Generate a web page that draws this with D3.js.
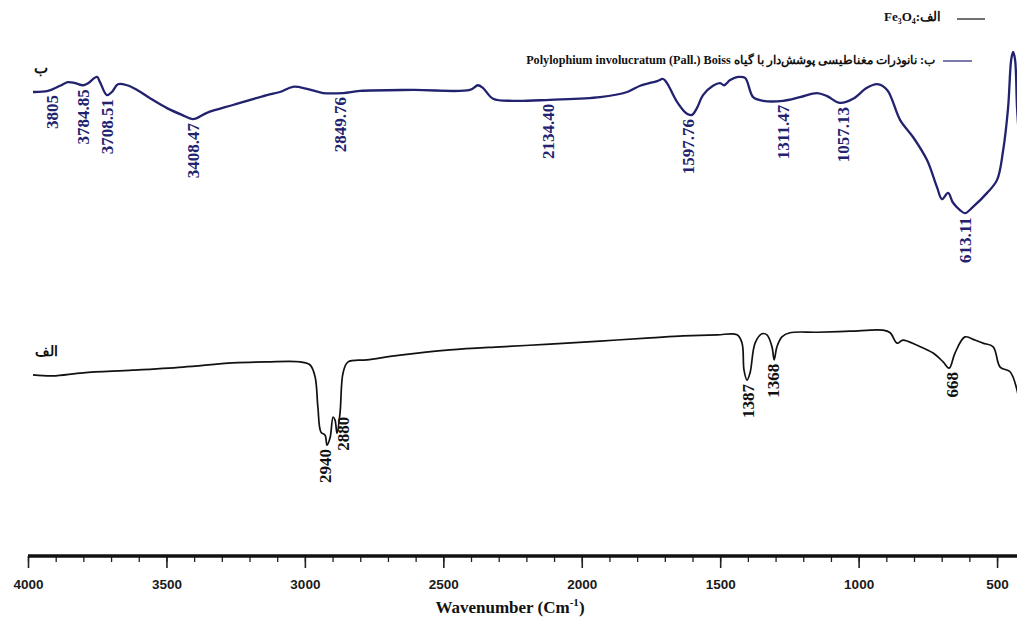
<!DOCTYPE html>
<html lang="fa">
  <head>
    <meta charset="UTF-8" />
    <title>FTIR spectra</title>
    <style>
      body {
        margin: 0;
        background: #fff;
      }
      svg {
        display: block;
        font-family: "Liberation Serif", "DejaVu Serif", serif;
      }
    </style>
  </head>
  <body>
    <script src="https://cdn.jsdelivr.net/npm/d3@7/dist/d3.min.js"></script>
    <script>
      // spectrum b (coated nanoparticles): [wavenumber, transmittance-ish]
      var specB = [
        [3982, 90.0], [3928, 90.2], [3884, 91.2], [3856, 91.9], [3830, 91.7],
        [3801, 91.3], [3783, 91.7], [3751, 92.9], [3740, 91.9], [3715, 89.4],
        [3697, 90.0], [3675, 91.5], [3642, 91.3], [3606, 90.4], [3559, 88.8],
        [3498, 86.9], [3444, 85.6], [3404, 84.8], [3354, 86.0], [3260, 87.5],
        [3137, 89.4], [3090, 90.0], [3043, 91.0], [2992, 90.6], [2934, 89.8],
        [2862, 89.8], [2801, 90.2], [2609, 90.4], [2404, 90.4], [2375, 91.3],
        [2357, 90.8], [2320, 88.7], [2248, 88.3], [2115, 88.5], [1934, 89.0],
        [1836, 90.0], [1789, 91.2], [1728, 92.1], [1706, 92.5], [1692, 91.7],
        [1656, 88.1], [1620, 85.8], [1602, 85.6], [1584, 86.9], [1562, 89.4],
        [1526, 91.2], [1500, 91.7], [1486, 91.3], [1464, 92.3], [1435, 92.9],
        [1410, 92.7], [1381, 89.0], [1345, 88.3], [1273, 88.3], [1212, 89.0],
        [1150, 89.8], [1114, 89.2], [1067, 87.9], [1020, 88.7], [970, 90.8],
        [933, 91.5], [897, 90.4], [850, 84.6], [803, 81.3], [753, 76.9],
        [717, 71.7], [699, 69.4], [677, 70.6], [659, 68.7], [634, 67.3],
        [616, 66.7], [587, 67.9], [536, 70.6], [500, 73.1], [478, 78.8],
        [460, 87.1], [449, 96.2], [442, 97.7], [435, 96.2], [428, 87.1],
        [420, 80.8]
      ];

      // spectrum a (Fe3O4)
      var specA = [
        [3982, 35.6], [3910, 35.4], [3801, 36.0], [3621, 36.5], [3440, 37.1],
        [3260, 37.9], [3137, 38.1], [3018, 38.1], [2981, 37.5], [2963, 35.2],
        [2953, 29.4], [2942, 24.6], [2927, 24.0], [2920, 22.1], [2909, 23.5],
        [2898, 27.5], [2891, 26.9], [2884, 24.4], [2873, 28.3], [2862, 36.0],
        [2844, 38.1], [2776, 38.5], [2656, 39.4], [2476, 40.4], [2295, 41.0],
        [2115, 41.5], [1934, 42.1], [1753, 42.7], [1634, 43.1], [1511, 43.3],
        [1439, 43.3], [1421, 41.7], [1414, 36.5], [1403, 34.6], [1392, 36.0],
        [1374, 41.7], [1349, 43.5], [1331, 43.3], [1313, 41.0], [1305, 38.5],
        [1295, 41.0], [1277, 42.9], [1248, 43.7], [1150, 43.8], [1031, 44.0],
        [912, 44.2], [886, 43.7], [861, 41.7], [840, 42.3], [789, 41.3],
        [731, 39.8], [695, 38.1], [673, 36.9], [652, 39.8], [616, 42.9],
        [580, 42.3], [551, 41.7], [514, 41.0], [489, 37.1], [453, 36.2],
        [428, 32.7], [420, 30.0]
      ];

      // peak labels: text, wavenumber where the label sits
      var peaksB = [
        ["3805", 3913], ["3784.85", 3801], ["3708.51", 3715], ["3408.47", 3404],
        ["2849.76", 2873], ["2134.40", 2122], ["1597.76", 1616], ["1311.47", 1273],
        ["1057.13", 1056], ["613.11", 616]
      ];
      var peaksA = [
        ["2940", 2927], ["2880", 2862], ["1387", 1399], ["1368", 1309], ["668", 663]
      ];

      var majorTicks = [4000, 3500, 3000, 2500, 2000, 1500, 1000, 500];
      var minorTicks = d3.range(4000, 400, -100);

      var legendA = "الف:Fe₃O₄";
      var legendB = "ب: نانوذرات مغناطیسی پوشش‌دار با گیاه Polylophium involucratum (Pall.) Boiss";

      var W = 1017, H = 621;
      var navy = "#22226f";

      var svg = d3.select("body").append("svg")
        .attr("width", W)
        .attr("height", H);

      svg.append("rect")
        .attr("width", W)
        .attr("height", H)
        .attr("fill", "#fff");

      var x = d3.scaleLinear().domain([4000, 428]).range([28, 1017]);
      var y = d3.scaleLinear().domain([0, 100]).range([560, 40]);

      var line = d3.line()
        .x(function(d) { return x(d[0]); })
        .y(function(d) { return y(d[1]); })
        .curve(d3.curveCatmullRom.alpha(0.5));

      svg.append("path")
        .datum(specB)
        .attr("d", line)
        .attr("fill", "none")
        .attr("stroke", navy)
        .attr("stroke-width", 2.3)
        .attr("stroke-linejoin", "round");

      svg.append("path")
        .datum(specA)
        .attr("d", line)
        .attr("fill", "none")
        .attr("stroke", "#111")
        .attr("stroke-width", 1.7)
        .attr("stroke-linejoin", "round");

      // lowest point of a spectrum near a wavenumber -> where a label hangs
      function dipY(spec, w) {
        var near = spec.filter(function(d) { return Math.abs(d[0] - w) <= 20; });
        if (!near.length) near = [spec.reduce(function(a, b) {
          return Math.abs(b[0] - w) < Math.abs(a[0] - w) ? b : a;
        })];
        return y(d3.min(near, function(d) { return d[1]; }));
      }

      function peakLabels(list, spec, color) {
        svg.append("g").selectAll("text")
          .data(list)
          .join("text")
          .attr("transform", function(d) {
            return "translate(" + x(d[1]) + "," + (dipY(spec, d[1]) + 4) + ") rotate(-90)";
          })
          .attr("text-anchor", "end")
          .attr("dy", "0.34em")
          .attr("font-size", 17)
          .attr("font-weight", "bold")
          .attr("fill", color)
          .text(function(d) { return d[0]; });
      }
      peakLabels(peaksB, specB, navy);
      peakLabels(peaksA, specA, "#111");

      // curve names
      svg.append("text")
        .attr("x", 48).attr("y", 73)
        .attr("text-anchor", "end")
        .attr("font-size", 15)
        .attr("font-weight", "bold")
        .attr("fill", "#111")
        .text("ب");
      svg.append("text")
        .attr("x", 58).attr("y", 356)
        .attr("text-anchor", "end")
        .attr("font-size", 14)
        .attr("font-weight", "bold")
        .attr("fill", "#111")
        .text("الف");

      // legend
      svg.append("line")
        .attr("x1", 957).attr("x2", 985).attr("y1", 19).attr("y2", 19)
        .attr("stroke", "#111").attr("stroke-width", 1.2);
      svg.append("text")
        .attr("x", 941).attr("y", 21)
        .attr("direction", "rtl")
        .attr("text-anchor", "start")
        .attr("font-size", 13)
        .attr("font-weight", "bold")
        .attr("fill", "#111")
        .text(legendA);

      svg.append("line")
        .attr("x1", 943).attr("x2", 972).attr("y1", 61).attr("y2", 61)
        .attr("stroke", navy).attr("stroke-width", 1.2);
      svg.append("text")
        .attr("x", 935).attr("y", 64)
        .attr("direction", "rtl")
        .attr("text-anchor", "start")
        .attr("font-size", 12.2)
        .attr("font-weight", "bold")
        .attr("fill", "#111")
        .text(legendB);

      // x axis
      var axisY = 556;
      var gx = svg.append("g").attr("transform", "translate(0," + axisY + ")");

      gx.append("g")
        .call(d3.axisBottom(x).tickValues(minorTicks).tickSize(6).tickFormat(""))
        .call(function(g) { g.select(".domain").remove(); })
        .selectAll("line").attr("stroke", "#222").attr("stroke-width", 1.3);

      gx.append("g")
        .call(d3.axisBottom(x).tickValues(majorTicks).tickSize(12).tickPadding(11)
          .tickFormat(d3.format("d")))
        .call(function(g) { g.select(".domain").remove(); })
        .call(function(g) {
          g.selectAll("line").attr("stroke", "#222").attr("stroke-width", 1.6);
          g.selectAll("text")
            .attr("font-family", "'Liberation Sans', Arial, sans-serif")
            .attr("font-size", 13.5)
            .attr("font-weight", "bold")
            .attr("fill", "#1a1a1a");
        });

      gx.append("line")
        .attr("x1", x(4000)).attr("x2", W)
        .attr("y1", 0).attr("y2", 0)
        .attr("stroke", "#111")
        .attr("stroke-width", 3.5);

      var title = svg.append("text")
        .attr("x", 510).attr("y", 613)
        .attr("text-anchor", "middle")
        .attr("font-size", 17)
        .attr("font-weight", "bold")
        .attr("fill", "#111");
      title.append("tspan").text("Wavenumber (Cm");
      title.append("tspan").attr("font-size", 11).attr("dy", -7).text("-1");
      title.append("tspan").attr("dy", 7).text(")");
    </script>
  </body>
</html>
